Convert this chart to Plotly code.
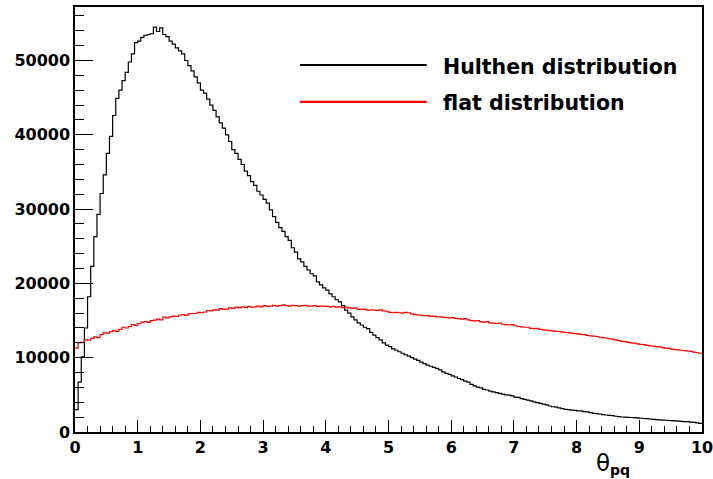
import numpy as np
import plotly.graph_objects as go

# Histogram binning: 200 bins on [0, 10]
x_min, x_max, n_bins = 0.0, 10.0, 200

hulthen = [
    3000, 6700, 10100, 14000, 18200, 22300, 26300, 29300, 32100, 34600,
    37500, 39800, 42600, 44900, 46000, 47300, 48400, 49800, 50900, 52400,
    52600, 53100, 53400, 53500, 53600, 54500, 53900, 54400, 53500, 53200,
    52600, 52200, 51700, 51300, 50900, 50000, 49300, 48600, 47800, 47000,
    46000, 45600, 44800, 44000, 43300, 42400, 41600, 40900, 40000, 39100,
    38000, 37500, 36700, 36000, 35100, 34500, 33700, 33200, 32400, 31900,
    31300, 30800, 29900, 29000, 28200, 27500, 27000, 26300, 25800, 24800,
    24200, 23300, 22900, 22300, 21800, 21300, 21000, 20200, 19800, 19400,
    19100, 18600, 18200, 17800, 17500, 17000, 16400, 16000, 15500, 15100,
    14700, 14400, 14100, 13900, 13400, 13050, 12700, 12400, 12000, 11700,
    11500, 11200, 11000, 10800, 10600, 10400, 10200, 10000, 9800, 9650,
    9400, 9200, 9000, 8850, 8700, 8550, 8350, 8100, 7900, 7750,
    7550, 7400, 7200, 7050, 6850, 6700, 6400, 6200, 6050, 5950,
    5750, 5650, 5500, 5400, 5300, 5200, 5100, 5000, 4950, 4850,
    4700, 4650, 4500, 4400, 4300, 4200, 4050, 3950, 3850, 3750,
    3650, 3500, 3400, 3350, 3250, 3150, 3050, 3000, 2950, 2900,
    2850, 2830, 2750, 2700, 2600, 2520, 2480, 2420, 2350, 2290,
    2250, 2200, 2120, 2060, 2020, 2000, 1980, 1950, 1930, 1900,
    1850, 1820, 1790, 1750, 1700, 1660, 1620, 1600, 1580, 1550,
    1520, 1490, 1460, 1430, 1400, 1390, 1340, 1300, 1230, 1170,
]

flat = [
    11300, 12000, 12050, 12400, 12350, 12600, 12800, 12700, 13100, 13350,
    13300, 13500, 13650, 13550, 13800, 14100, 14000, 14200, 14450, 14350,
    14600, 14800, 14850, 14750, 15000, 15050, 15200, 15100, 15450, 15350,
    15500, 15600, 15550, 15750, 15800, 15700, 15900, 15950, 15950, 16100,
    16050, 16150, 16350, 16300, 16450, 16400, 16600, 16500, 16550, 16700,
    16650, 16800, 16700, 16850, 16750, 16900, 16800, 16850, 16950, 16850,
    17000, 16900, 16950, 17050, 16950, 17000, 17100, 17000, 16950, 17050,
    17000, 16950, 17000, 17050, 16950, 16950, 17000, 16900, 16950, 16950,
    16900, 16850, 16900, 16800, 16850, 16750, 16800, 16700, 16650, 16700,
    16500, 16550, 16500, 16400, 16450, 16400, 16350, 16450, 16300, 16250,
    16100, 16050, 16100, 16050, 16000, 16100, 16050, 15900, 15800, 15750,
    15700, 15650, 15650, 15550, 15600, 15500, 15500, 15450, 15400, 15350,
    15400, 15300, 15250, 15200, 15250, 15100, 15000, 14950, 15000, 14850,
    14800, 14850, 14700, 14650, 14600, 14650, 14500, 14450, 14400, 14450,
    14300, 14200, 14150, 14100, 14100, 13950, 13900, 13950, 13800, 13750,
    13700, 13650, 13600, 13550, 13550, 13450, 13400, 13350, 13300, 13250,
    13200, 13150, 13100, 13000, 12950, 12900, 12850, 12750, 12700, 12650,
    12550, 12500, 12400, 12300, 12200, 12150, 12050, 12000, 11950, 11850,
    11800, 11750, 11650, 11600, 11550, 11500, 11450, 11350, 11300, 11250,
    11150, 11100, 11050, 11000, 10950, 10900, 10850, 10750, 10700, 10600,
]

series_names = ["Hulthen distribution", "flat distribution"]
series_colors = ["#000000", "#ff0000"]
x_tick_vals = [0, 1, 2, 3, 4, 5, 6, 7, 8, 9, 10]
x_tick_text = ["0", "1", "2", "3", "4", "5", "6", "7", "8", "9", "10"]
x_title = "<span style='font-size:23px'>θ</span><sub><b>pq</b></sub>"
y_max = 57200

edges = np.linspace(x_min, x_max, n_bins + 1)

fig = go.Figure()
for vals, name, col in zip([hulthen, flat], series_names, series_colors):
    yy = list(vals) + [vals[-1]]
    fig.add_trace(go.Scatter(
        x=edges, y=yy, mode="lines", name=name,
        line=dict(color=col, width=1.2, shape="hv"),
        showlegend=False, hoverinfo="skip",
    ))

tickfont = dict(family="DejaVu Sans", size=16, color="black", weight="bold")

fig.update_xaxes(
    range=[x_min, x_max], tickmode="array", tickvals=x_tick_vals, ticktext=x_tick_text,
    ticks="inside", ticklen=12, tickwidth=1, tickcolor="black",
    minor=dict(ticks="inside", ticklen=6, dtick=0.2, tick0=0, tickcolor="black", tickwidth=1),
    showline=True, linecolor="black", linewidth=1.5, mirror=True,
    showgrid=False, zeroline=False, tickfont=tickfont, automargin=False,
    ticklabeloverflow="allow",
)
fig.update_yaxes(
    range=[0, y_max], dtick=10000, tick0=0, tickformat="d",
    ticks="inside", ticklen=18, tickwidth=1, tickcolor="black",
    minor=dict(ticks="inside", ticklen=9, dtick=2000, tickcolor="black", tickwidth=1),
    showline=True, linecolor="black", linewidth=1.5, mirror=True,
    showgrid=False, zeroline=False, tickfont=tickfont, automargin=False,
    ticklabeloverflow="allow",
)

# Legend drawn by hand (long line samples like ROOT's TLegend)
leg_y = [0.8635, 0.777]
for name, col, ly in zip(series_names, series_colors, leg_y):
    fig.add_shape(type="line", xref="paper", yref="paper",
                  x0=0.359, x1=0.561, y0=ly, y1=ly,
                  line=dict(color=col, width=2.2))
    fig.add_annotation(xref="paper", yref="paper", x=0.583, y=ly - 0.004,
                       text=name, showarrow=False, xanchor="left", yanchor="middle",
                       font=dict(family="DejaVu Sans", size=20.5, color="black", weight="bold"))

fig.add_annotation(xref="paper", yref="paper", x=0.888, y=-0.075,
                   text=x_title, showarrow=False, xanchor="right", yanchor="middle",
                   font=dict(family="DejaVu Sans", size=20, color="black"))

fig.update_layout(
    width=713, height=479,
    margin=dict(l=75, r=11, t=7, b=47),
    paper_bgcolor="white", plot_bgcolor="white",
    showlegend=False,
)

fig.write_html("out.html")
